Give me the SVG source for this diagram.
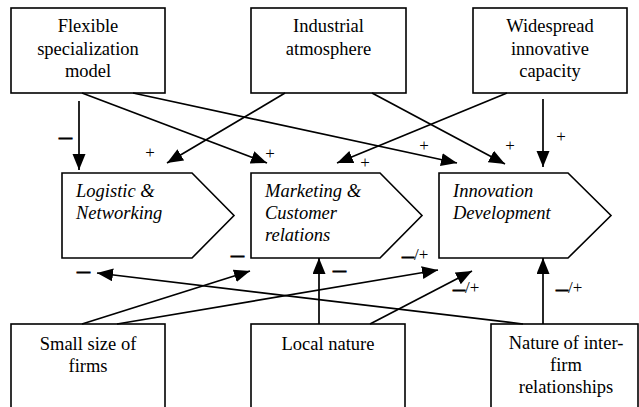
<svg xmlns="http://www.w3.org/2000/svg" width="639" height="407" viewBox="0 0 639 407">
  <style>
    .box { fill: #fff; stroke: #000; stroke-width: 1.6; }
    .lbl { font-size: 18.5px; fill: #000; text-anchor: middle; }
    .act { font-size: 18.5px; font-style: italic; fill: #000; }
    .edge { stroke: #000; stroke-width: 1.7; fill: none; marker-end: url(#head); }
    .plus { font-size: 17px; fill: #000; text-anchor: middle; }
    .minus { font-size: 13px; font-weight: bold; fill: #000; stroke: #000; stroke-width: 0.9; }
    .mix { font-size: 17px; fill: #000; }
    .mix .d { font-size: 12px; font-weight: bold; stroke: #000; stroke-width: 0.9; }
  </style>
  <defs>
    <marker id="head" markerUnits="userSpaceOnUse" markerWidth="17" markerHeight="14" refX="16" refY="6.5" orient="auto">
      <path d="M0,0 L16,6.5 L0,13 Z" fill="#000"/>
    </marker>
  </defs>

  <rect width="639" height="407" fill="#fff"/>

  <g font-family="Liberation Serif, Times New Roman, serif">
  <!-- upper factors -->
  <g id="flexible">
    <rect class="box" x="11" y="8" width="154" height="85"/>
    <text class="lbl" x="88" y="32">Flexible</text>
    <text class="lbl" x="88" y="54.5">specialization</text>
    <text class="lbl" x="88" y="77">model</text>
  </g>
  <g id="industrial">
    <rect class="box" x="251" y="8" width="155" height="85"/>
    <text class="lbl" x="328.5" y="32">Industrial</text>
    <text class="lbl" x="328.5" y="54.5">atmosphere</text>
  </g>
  <g id="widespread">
    <rect class="box" x="473" y="8" width="154" height="85"/>
    <text class="lbl" x="550" y="32">Widespread</text>
    <text class="lbl" x="550" y="54.5">innovative</text>
    <text class="lbl" x="550" y="77">capacity</text>
  </g>

  <!-- activities -->
  <g id="logistic">
    <path class="box" d="M62,173 H192 L234,215.5 L192,258 H62 Z"/>
    <text class="act" x="76" y="197">Logistic &amp;</text>
    <text class="act" x="76" y="219">Networking</text>
  </g>
  <g id="marketing">
    <path class="box" d="M251,173 H380 L422,215.5 L380,258 H251 Z"/>
    <text class="act" x="265" y="197">Marketing &amp;</text>
    <text class="act" x="265" y="219">Customer</text>
    <text class="act" x="265" y="241">relations</text>
  </g>
  <g id="innovation">
    <path class="box" d="M439,173 H568 L611,215.5 L568,258 H439 Z"/>
    <text class="act" x="453" y="197">Innovation</text>
    <text class="act" x="453" y="219">Development</text>
  </g>

  <!-- lower factors -->
  <g id="small-size">
    <rect class="box" x="11" y="324" width="154" height="100"/>
    <text class="lbl" x="88" y="350">Small size of</text>
    <text class="lbl" x="88" y="372">firms</text>
  </g>
  <g id="local-nature">
    <rect class="box" x="251" y="324" width="154" height="100"/>
    <text class="lbl" x="328" y="350">Local nature</text>
  </g>
  <g id="inter-firm">
    <rect class="box" x="491" y="324" width="147" height="100"/>
    <text class="lbl" x="566" y="349">Nature of inter-</text>
    <text class="lbl" x="566" y="371">firm</text>
    <text class="lbl" x="566" y="393">relationships</text>
  </g>

  <!-- influences -->
  <g id="connectors">
    <line class="edge" x1="79" y1="101" x2="79" y2="170"/>
    <line class="edge" x1="82" y1="93" x2="267" y2="163"/>
    <line class="edge" x1="133" y1="93" x2="457" y2="163"/>
    <line class="edge" x1="285" y1="93" x2="167" y2="163"/>
    <line class="edge" x1="372" y1="93" x2="505" y2="164"/>
    <line class="edge" x1="507" y1="93" x2="337" y2="163"/>
    <line class="edge" x1="543" y1="99" x2="543" y2="167"/>
    <line class="edge" x1="82" y1="324" x2="250" y2="271"/>
    <line class="edge" x1="117" y1="324" x2="438" y2="270"/>
    <line class="edge" x1="523" y1="324" x2="97" y2="273"/>
    <line class="edge" x1="319" y1="324" x2="319" y2="258"/>
    <line class="edge" x1="370" y1="324" x2="472" y2="271"/>
    <line class="edge" x1="543" y1="324" x2="543" y2="258"/>

    <!-- signs -->
    <text class="minus" x="59" y="141">—</text>
    <text class="plus" x="150" y="158">+</text>
    <text class="plus" x="270" y="159">+</text>
    <text class="plus" x="424" y="151">+</text>
    <text class="plus" x="365" y="168">+</text>
    <text class="plus" x="510" y="151">+</text>
    <text class="plus" x="561" y="142">+</text>
    <text class="minus" x="77" y="275">—</text>
    <text class="minus" x="231" y="259">—</text>
    <text class="minus" x="333" y="274">—</text>
    <text class="mix" x="402" y="260"><tspan class="d">—</tspan>/+</text>
    <text class="mix" x="453" y="293"><tspan class="d">—</tspan>/+</text>
    <text class="mix" x="556" y="293"><tspan class="d">—</tspan>/+</text>
  </g>
  </g>
</svg>
